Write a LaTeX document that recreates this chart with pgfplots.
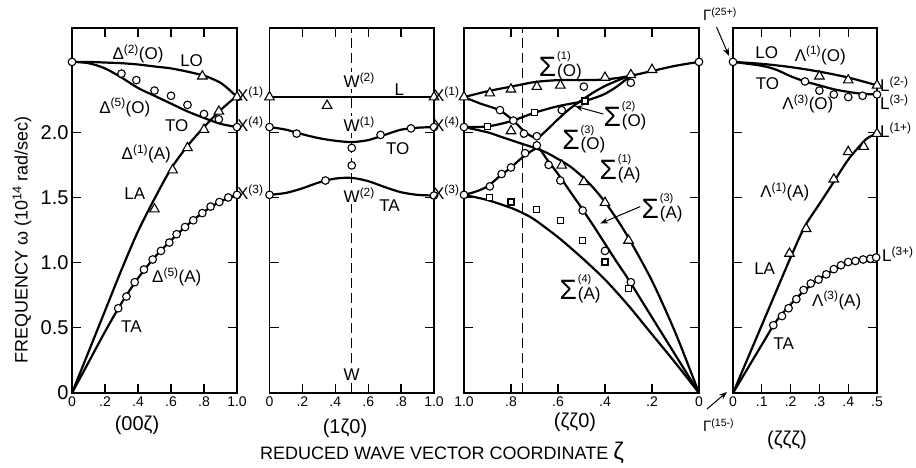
\documentclass[border=0pt]{standalone}
\usepackage{fontspec}
\setmainfont{Liberation Sans}
\usepackage{pgfplots}
\pgfplotsset{compat=1.18}
\usetikzlibrary{arrows.meta}

\newcommand{\fs}[1]{\fontsize{#1}{#1}\selectfont}
\newcommand{\up}[1]{\textsuperscript{#1}}
\newcommand{\sig}[2]{{\fs{28}Σ}\kern1pt\rlap{\raisebox{16.5pt}{\fs{11}(#1)}}(#2)}
\newcommand{\wl}[1]{W\rlap{\up{#1}}}

\pgfplotsset{
  disp/.style={
    scale only axis, height=365pt, ymin=0, ymax=2.8,
    anchor=south west, clip=false,
    axis line style={line width=1.3pt},
    every tick/.style={line width=1.3pt, black},
    major tick length=9pt, tick align=inside,
    ytick={0,0.5,1,1.5,2}, yticklabels={},
    xticklabel style={font=\fs{14}},
    yticklabel style={font=\fs{20}},
  },
  curve/.style={black, line width=2.2pt, smooth, mark=none},
  circ/.style={only marks, mark=*, mark size=3.8pt, mark options={fill=white, draw=black, line width=1.1pt}},
  tri/.style={only marks, mark=triangle*, mark size=5.5pt, mark options={fill=white, draw=black, line width=1.1pt}},
  sq/.style={only marks, mark=square*, mark size=3pt, mark options={fill=white, draw=black, line width=1.1pt}},
  vdash/.style={black, line width=1.3pt, dash pattern=on 10pt off 5pt, mark=none},
}

\begin{document}
\begin{tikzpicture}[x=1pt, y=1pt, font=\fs{17}]
\useasboundingbox (0,0) rectangle (916,468);

% ---- (00 zeta) ----
\begin{axis}[disp, at={(72pt,75pt)}, width=165pt, xmin=0, xmax=1,
  xtick={0,0.2,0.4,0.6,0.8,1}, xticklabels={0,.2,.4,.6,.8,1.0},
  yticklabels={0,0.5,1.0,1.5,2.0}]
\addplot[curve] coordinates {(0,2.54)(0.1,2.54)(0.2,2.535)(0.3,2.53)(0.4,2.52)(0.5,2.505)(0.6,2.49)(0.7,2.465)(0.8,2.435)(0.85,2.41)(0.9,2.38)(0.95,2.33)(1,2.27)};
\addplot[curve] coordinates {(0,2.54)(0.1,2.53)(0.2,2.49)(0.3,2.42)(0.4,2.34)(0.5,2.28)(0.6,2.22)(0.7,2.16)(0.8,2.11)(0.9,2.065)(1,2.04)};
\addplot[curve] coordinates {(0,0)(0.1,0.315)(0.2,0.63)(0.3,0.945)(0.4,1.24)(0.5,1.49)(0.6,1.72)(0.7,1.895)(0.8,2.04)(0.9,2.17)(1,2.28)};
\addplot[curve] coordinates {(0,0)(0.1,0.235)(0.2,0.47)(0.3,0.69)(0.4,0.88)(0.5,1.04)(0.6,1.17)(0.7,1.29)(0.8,1.39)(0.9,1.47)(1,1.52)};
\addplot[circ] coordinates {(0,2.54)(0.30,2.45)(0.39,2.40)(0.50,2.32)(0.60,2.28)(0.70,2.21)(0.80,2.14)(0.89,2.10)(1,2.04)};
\addplot[circ] coordinates {(0.28,0.65)(0.33,0.74)(0.38,0.85)(0.436,0.947)(0.489,1.024)(0.539,1.09)(0.59,1.154)(0.634,1.218)(0.685,1.273)(0.735,1.325)(0.79,1.38)(0.84,1.43)(0.893,1.465)(0.947,1.50)(1,1.52)};
\addplot[tri] coordinates {(0.79,2.43)(0.50,1.41)(0.61,1.71)(0.70,1.88)(0.80,2.02)(0.89,2.16)(1,2.27)};
\node at (axis cs:0.40,2.60) {Δ\up{(2)}(O)};
\node at (axis cs:0.725,2.55) {LO};
\node at (axis cs:0.32,2.19) {Δ\up{(5)}(O)};
\node at (axis cs:0.635,2.05) {TO};
\node at (axis cs:0.45,1.835) {Δ\up{(1)}(A)};
\node at (axis cs:0.38,1.53) {LA};
\node at (axis cs:0.635,0.89) {Δ\up{(5)}(A)};
\node at (axis cs:0.36,0.51) {TA};
\end{axis}

% ---- (1 zeta 0) ----
\begin{axis}[disp, at={(269.5pt,75pt)}, width=164.5pt, xmin=0, xmax=1,
  xtick={0,0.2,0.4,0.6,0.8,1}, xticklabels={0,.2,.4,.6,.8,1.0}]
\addplot[vdash] coordinates {(0.5,0)(0.5,2.8)};
\addplot[curve] coordinates {(0,2.27)(1,2.27)};
\addplot[curve] coordinates {(0,2.04)(0.1,2.02)(0.2,1.985)(0.3,1.955)(0.4,1.935)(0.5,1.925)(0.6,1.94)(0.7,1.98)(0.8,2.02)(0.9,2.035)(1,2.04)};
\addplot[curve] coordinates {(0,1.52)(0.1,1.535)(0.2,1.57)(0.3,1.615)(0.4,1.645)(0.5,1.65)(0.6,1.625)(0.7,1.58)(0.8,1.54)(0.9,1.52)(1,1.515)};
\addplot[tri] coordinates {(0,2.27)(0.35,2.205)(1,2.27)};
\addplot[circ] coordinates {(0,2.04)(0.165,1.99)(0.5,1.88)(0.5,1.746)(0.675,1.98)(0.86,2.03)(1,2.04)(0,1.52)(0.34,1.63)(1,1.515)};
\node[fill=white, inner sep=1pt] at (axis cs:0.5,2.40) {\wl{(2)}};
\node[fill=white, inner sep=1pt] at (axis cs:0.5,2.06) {\wl{(1)}};
\node[fill=white, inner sep=1pt] at (axis cs:0.5,1.515) {\wl{(2)}};
\node[fill=white, inner sep=1pt] at (axis cs:0.5,0.14) {W};
\node at (axis cs:0.79,2.33) {L};
\node at (axis cs:0.78,1.875) {TO};
\node at (axis cs:0.73,1.44) {TA};
\end{axis}

% ---- (zeta zeta 0) ----
\begin{axis}[disp, at={(464pt,75pt)}, width=235pt, xmin=0, xmax=1, x dir=reverse,
  xtick={0,0.2,0.4,0.6,0.8,1}, xticklabels={0,.2,.4,.6,.8,1.0}]
\addplot[vdash] coordinates {(0.75,0)(0.75,2.8)};
\addplot[curve] coordinates {(1,2.27)(0.9,2.315)(0.8,2.35)(0.7,2.385)(0.6,2.40)(0.5,2.40)(0.4,2.405)(0.3,2.43)(0.2,2.47)(0.1,2.51)(0,2.54)};
\addplot[curve] coordinates {(1,2.04)(0.9,2.045)(0.8,2.085)(0.7,2.15)(0.6,2.20)(0.5,2.235)(0.45,2.26)(0.4,2.295)(0.35,2.35)(0.31,2.405)(0.27,2.445)};
\addplot[curve] coordinates {(1,2.27)(0.93,2.22)(0.85,2.17)(0.79,2.09)(0.74,2.00)(0.7,1.96)(0.68,1.965)(0.64,2.03)(0.6,2.10)(0.55,2.18)(0.5,2.245)(0.45,2.305)(0.4,2.355)(0.35,2.395)(0.3,2.43)};
\addplot[curve] coordinates {(1,2.04)(0.9,2.00)(0.85,1.97)(0.75,1.91)(0.7,1.88)(0.65,1.845)(0.6,1.795)(0.55,1.74)(0.5,1.665)(0.45,1.575)(0.4,1.465)(0.35,1.335)(0.3,1.19)(0.2,0.86)(0.1,0.46)(0,0)};
\addplot[curve] coordinates {(1,1.52)(0.95,1.545)(0.9,1.585)(0.85,1.66)(0.8,1.73)(0.75,1.81)(0.7,1.87)(0.68,1.875)(0.65,1.80)(0.6,1.68)(0.55,1.55)(0.5,1.42)(0.45,1.285)(0.4,1.145)(0.35,1.005)(0.3,0.87)(0.2,0.58)(0.1,0.29)(0,0)};
\addplot[curve] coordinates {(1,1.52)(0.9,1.48)(0.8,1.42)(0.75,1.38)(0.7,1.33)(0.6,1.195)(0.5,1.04)(0.4,0.87)(0.3,0.67)(0.2,0.45)(0.1,0.23)(0,0)};
\addplot[tri] coordinates {(1,2.27)(0.89,2.30)(0.80,2.33)(0.69,2.35)(0.59,2.36)(0.40,2.42)(0.29,2.44)(0.20,2.48)(0.80,2.01)(0.584,1.746)(0.49,1.62)(0.40,1.46)(0.30,1.17)};
\addplot[circ] coordinates {(0,2.54)(0.49,2.35)(0.29,2.38)(1,2.04)(0.847,2.17)(0.79,2.09)(0.745,1.99)(0.69,1.97)(0.584,2.17)(0.69,1.90)(1,1.52)(0.89,1.585)(0.84,1.68)(0.80,1.73)(0.74,1.84)(0.64,1.75)(0.59,1.63)(0.495,1.40)(0.40,1.09)(0.29,0.85)};
\addplot[sq] coordinates {(0.90,2.045)(0.70,2.15)(0.485,2.24)(0.89,1.50)(0.80,1.465)(0.69,1.41)(0.59,1.32)(0.495,1.17)(0.40,1.005)(0.30,0.80)};
\node at (axis cs:0.59,2.51) {\sig{1}{O}};
\node at (axis cs:0.315,2.125) {\sig{2}{O}};
\draw[-{Stealth[length=8pt]}, line width=1pt] (axis cs:0.407,2.14) -- (axis cs:0.528,2.20);
\node at (axis cs:0.49,1.945) {\sig{3}{O}};
\node at (axis cs:0.336,1.72) {\sig{1}{A}};
\node at (axis cs:0.157,1.42) {\sig{3}{A}};
\draw[-{Stealth[length=8pt]}, line width=1pt] (axis cs:0.25,1.43) -- (axis cs:0.42,1.30);
\node at (axis cs:0.506,0.80) {\sig{4}{A}};
\end{axis}

% ---- (zeta zeta zeta) ----
\begin{axis}[disp, at={(733pt,75pt)}, width=144pt, xmin=0, xmax=0.5,
  xtick={0,0.1,0.2,0.3,0.4,0.5}, xticklabels={0,.1,.2,.3,.4,.5}]
\addplot[curve] coordinates {(0,2.54)(0.1,2.525)(0.2,2.50)(0.3,2.465)(0.4,2.42)(0.5,2.36)};
\addplot[curve] coordinates {(0,2.54)(0.1,2.51)(0.15,2.48)(0.2,2.43)(0.25,2.39)(0.3,2.36)(0.35,2.33)(0.4,2.31)(0.45,2.295)(0.5,2.29)};
\addplot[curve] coordinates {(0,0)(0.1,0.52)(0.2,1.04)(0.25,1.28)(0.3,1.45)(0.35,1.62)(0.4,1.79)(0.45,1.92)(0.47,1.96)(0.5,1.99)};
\addplot[curve] coordinates {(0,0)(0.05,0.185)(0.1,0.37)(0.15,0.55)(0.2,0.68)(0.25,0.79)(0.3,0.875)(0.35,0.945)(0.4,0.995)(0.45,1.025)(0.5,1.045)};
\addplot[tri] coordinates {(0.30,2.43)(0.40,2.40)(0.5,2.36)(0.5,1.99)(0.454,1.89)(0.40,1.85)(0.35,1.64)(0.254,1.26)(0.196,1.07)};
\addplot[circ] coordinates {(0,2.54)(0.25,2.39)(0.30,2.32)(0.35,2.29)(0.40,2.27)(0.45,2.28)(0.5,2.29)};
\addplot[circ] coordinates {(0.14,0.52)(0.17,0.59)(0.193,0.65)(0.22,0.72)(0.245,0.79)(0.27,0.84)(0.297,0.87)(0.324,0.91)(0.35,0.95)(0.375,0.98)(0.40,1.005)(0.425,1.013)(0.452,1.024)(0.477,1.03)(0.497,1.04)};
\node at (axis cs:0.117,2.61) {LO};
\node at (axis cs:0.303,2.59) {Λ\up{(1)}(O)};
\node at (axis cs:0.12,2.376) {TO};
\node at (axis cs:0.26,2.22) {Λ\up{(3)}(O)};
\node at (axis cs:0.18,1.545) {Λ\up{(1)}(A)};
\node at (axis cs:0.11,0.953) {LA};
\node at (axis cs:0.36,0.71) {Λ\up{(3)}(A)};
\node at (axis cs:0.176,0.38) {TA};
\end{axis}

% labels between and around the panels
\node[anchor=base east] at (267,366) {X\up{(1)}};
\node[anchor=base east] at (267,336) {X\up{(4)}};
\node[anchor=base east] at (267,268) {X\up{(3)}};
\node[anchor=base east] at (463,366) {X\up{(1)}};
\node[anchor=base east] at (463,336) {X\up{(4)}};
\node[anchor=base east] at (463,268) {X\up{(3)}};
\node[anchor=base west, inner sep=0pt] at (880,376) {L\up{(2-)}};
\node[anchor=base west, inner sep=0pt] at (880,358) {L\up{(3-)}};
\node[anchor=base west, inner sep=0pt] at (880,330) {L\up{(1+)}};
\node[anchor=base west, inner sep=0pt] at (882,206) {L\up{(3+)}};
\node[anchor=base west, inner sep=0pt, font=\fs{15}] at (703,447) {Γ\up{(25+)}};
\draw[-{Stealth[length=8pt]}, line width=1pt] (716.5,441) -- (729,412);
\node[anchor=base west, inner sep=0pt, font=\fs{15}] at (703,36) {Γ\up{(15-)}};
\draw[-{Stealth[length=8pt]}, line width=1pt] (707,59) -- (727,76);

\node[font=\fs{20}] at (137,43) {(00ζ)};
\node[font=\fs{20}] at (345,40) {(1ζ0)};
\node[font=\fs{20}] at (575,46) {(ζζ0)};
\node[font=\fs{20}] at (787,28) {(ζζζ)};
\node[font=\fs{18}] at (442,15) {REDUCED WAVE VECTOR COORDINATE {\fs{24}ζ}};
\node[rotate=90, font=\fs{18}] at (22,228) {FREQUENCY ω (10\up{14} rad/sec)};
\end{tikzpicture}
\end{document}
